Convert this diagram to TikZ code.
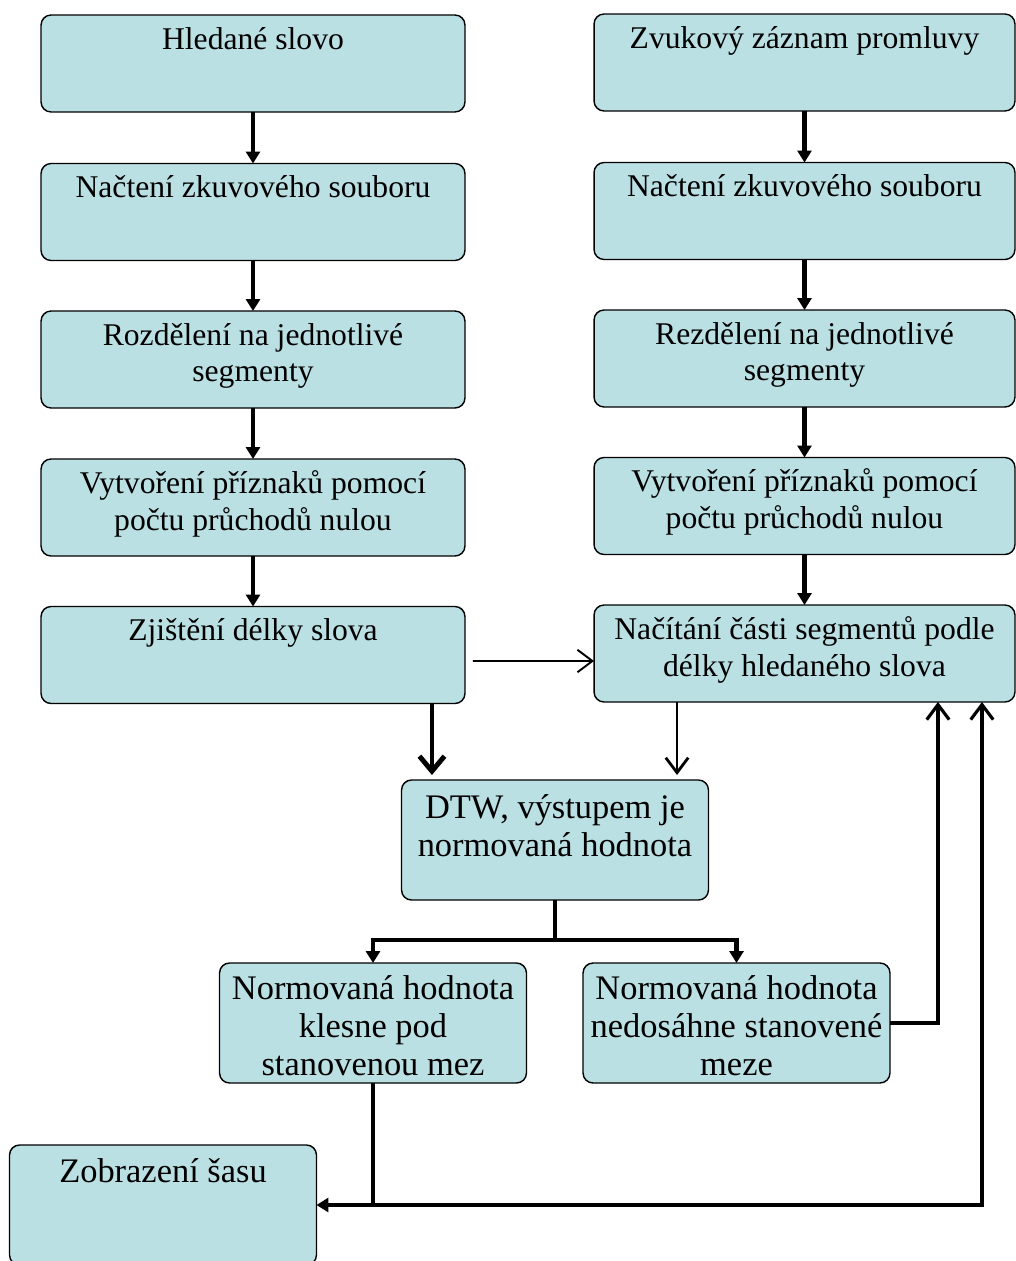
\documentclass[tikz,border=0pt]{standalone}
\usepackage{fontspec}
\setmainfont{Liberation Serif}
\usetikzlibrary{arrows.meta}
\definecolor{boxblue}{RGB}{186,224,227}
\tikzset{
  box/.style={draw, line width=0.8pt, rounded corners=0.2cm, fill=boxblue,
    inner sep=0pt, outer sep=0pt, minimum width=8.48cm, minimum height=1.94cm},
  lowbox/.style={box, minimum width=6.14cm, minimum height=2.4cm},
  txt/.style={anchor=base, align=center, inner sep=0pt, font=\fontsize{18}{21}\selectfont},
  bigtxt/.style={txt, font=\fontsize{19.6}{21.6}\selectfont},
  arr/.style={line width=2.8pt, -{Triangle[length=0.24cm,width=0.28cm]}},
  openarr/.style={line width=1.1pt, -{Straight Barb[length=0.3cm,width=0.45cm]}}
}
\begin{document}
\begin{tikzpicture}[x=0.02cm,y=-0.02cm]
\useasboundingbox (0,0) rectangle (1016,1261);
  % Draw left column (text sits on its last line)
  \node[box] (l1) at (253,63.5) {};
  \node[txt] (l1text) at ([yshift=-0.68cm]l1.north) {Hledané slovo};
  \node[box] (l2) at (253,212) {};
  \node[txt] (l2text) at ([yshift=-0.68cm]l2.north) {Načtení zkuvového souboru};
  \node[box] (l3) at (253,359.5) {};
  \node[txt] (l3text) at ([yshift=-1.42cm]l3.north) {Rozdělení na jednotlivé\\segmenty};
  \node[box] (l4) at (253,507.5) {};
  \node[txt] (l4text) at ([yshift=-1.42cm]l4.north) {Vytvoření příznaků pomocí\\počtu průchodů nulou};
  \node[box] (l5) at (253,655) {};
  \node[txt] (l5text) at ([yshift=-0.68cm]l5.north) {Zjištění délky slova};
  % Draw right column
  \node[box, minimum width=8.42cm] (r1) at (804.5,62.5) {};
  \node[txt] (r1text) at ([yshift=-0.68cm]r1.north) {Zvukový záznam promluvy};
  \node[box, minimum width=8.42cm] (r2) at (804.5,211) {};
  \node[txt] (r2text) at ([yshift=-0.68cm]r2.north) {Načtení zkuvového souboru};
  \node[box, minimum width=8.42cm] (r3) at (804.5,358.5) {};
  \node[txt] (r3text) at ([yshift=-1.42cm]r3.north) {Rezdělení na jednotlivé\\segmenty};
  \node[box, minimum width=8.42cm] (r4) at (804.5,506) {};
  \node[txt] (r4text) at ([yshift=-1.42cm]r4.north) {Vytvoření příznaků pomocí\\počtu průchodů nulou};
  \node[box, minimum width=8.42cm] (r5) at (804.5,653.5) {};
  \node[txt] (r5text) at ([yshift=-1.42cm]r5.north) {Načítání části segmentů podle\\délky hledaného slova};
  % Draw lower boxes
  \node[lowbox] (dtw) at (555,840) {};
  \node[bigtxt] (dtwtext) at ([yshift=-1.52cm]dtw.north) {DTW, výstupem je\\normovaná hodnota};
  \node[lowbox] (n1) at (373,1023) {};
  \node[bigtxt] (n1text) at ([yshift=-2.24cm]n1.north) {Normovaná hodnota\\klesne pod\\stanovenou mez};
  \node[lowbox] (n2) at (736.5,1023) {};
  \node[bigtxt] (n2text) at ([yshift=-2.24cm]n2.north) {Normovaná hodnota\\nedosáhne stanovené\\meze};
  \node[lowbox] (z) at (163,1205) {};
  \node[bigtxt] (ztext) at ([yshift=-0.74cm]z.north) {Zobrazení šasu};

  % Draw column arrows
  \draw[arr] (l1) -- (l2);
  \draw[arr] (l2) -- (l3);
  \draw[arr] (l3) -- (l4);
  \draw[arr] (l4) -- (l5);
  \draw[arr] (r1) -- (r2);
  \draw[arr] (r2) -- (r3);
  \draw[arr] (r3) -- (r4);
  \draw[arr] (r4) -- (r5);
  % Draw arrows to DTW
  \draw[openarr] ([xshift=0.16cm,yshift=-0.12cm]l5.east) -- ([yshift=-0.15cm]r5.west);
  \coordinate (fromlen) at ([xshift=3.58cm]l5.south);
  \draw[arr, -{Straight Barb[length=0.3cm,width=0.5cm]}] (fromlen) -- ([yshift=0.1cm]fromlen |- dtw.north);
  \coordinate (fromseg) at ([xshift=-2.55cm]r5.south);
  \draw[openarr, line width=1.6pt] (fromseg) -- ([yshift=0.1cm]fromseg |- dtw.north);
  % Draw split below DTW
  \coordinate (split) at ([yshift=-0.8cm]dtw.south);
  \draw[line width=2.8pt] (dtw.south) -- (split);
  \draw[arr] (split) -| (n1);
  \draw[arr] (split) -| (n2);
  % Draw way back and way out
  \coordinate (back1) at ([xshift=2.67cm]r5.south);
  \coordinate (back2) at ([xshift=3.55cm]r5.south);
  \draw[openarr, line width=1.8pt] (n2.east) -| (back1);
  \draw[arr] (n1.south) |- (z.east);
  \draw[openarr, line width=1.8pt] (n1.south |- z.east) -| (back2);
\end{tikzpicture}
\end{document}
